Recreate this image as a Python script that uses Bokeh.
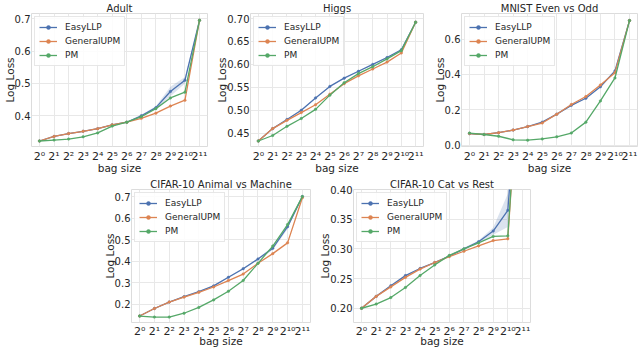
from bokeh.plotting import figure
from bokeh.layouts import row, column, Spacer
from bokeh.models import FixedTicker, Legend, LegendItem, Range1d, NumeralTickFormatter
from bokeh.embed import file_html
from bokeh.resources import INLINE

# ---- data ----
bag_exp = list(range(12))
tick_labels = ["2⁰", "2¹", "2²", "2³", "2⁴", "2⁵", "2⁶", "2⁷", "2⁸", "2⁹", "2¹⁰", "2¹¹"]
series_names = ["EasyLLP", "GeneralUPM", "PM"]

adult_easy = [0.322, 0.336, 0.345, 0.352, 0.360, 0.372, 0.380, 0.400, 0.425, 0.475, 0.510, 0.695]
adult_gupm = [0.322, 0.336, 0.345, 0.352, 0.360, 0.372, 0.380, 0.392, 0.408, 0.430, 0.448, 0.695]
adult_pm = [0.322, 0.325, 0.328, 0.335, 0.347, 0.368, 0.380, 0.397, 0.422, 0.455, 0.473, 0.695]
adult_easy_sd = [0.001, 0.001, 0.001, 0.001, 0.001, 0.002, 0.002, 0.003, 0.004, 0.015, 0.010, 0.002]

higgs_easy = [0.433, 0.460, 0.480, 0.500, 0.527, 0.552, 0.570, 0.585, 0.600, 0.615, 0.632, 0.692]
higgs_gupm = [0.433, 0.460, 0.478, 0.495, 0.512, 0.535, 0.558, 0.575, 0.590, 0.605, 0.625, 0.692]
higgs_pm = [0.433, 0.445, 0.465, 0.482, 0.502, 0.533, 0.560, 0.580, 0.595, 0.612, 0.630, 0.692]
higgs_easy_sd = [0.001] * 12

mnist_easy = [0.065, 0.060, 0.070, 0.085, 0.105, 0.130, 0.175, 0.225, 0.265, 0.330, 0.420, 0.705]
mnist_gupm = [0.065, 0.060, 0.070, 0.085, 0.105, 0.125, 0.175, 0.230, 0.275, 0.340, 0.410, 0.705]
mnist_pm = [0.068, 0.060, 0.050, 0.030, 0.028, 0.035, 0.047, 0.068, 0.130, 0.250, 0.380, 0.705]
mnist_easy_sd = [0.002] * 12

animal_easy = [0.145, 0.180, 0.210, 0.235, 0.258, 0.285, 0.325, 0.365, 0.410, 0.460, 0.560, 0.700]
animal_gupm = [0.145, 0.180, 0.210, 0.233, 0.255, 0.280, 0.310, 0.340, 0.390, 0.435, 0.485, 0.695]
animal_pm = [0.145, 0.140, 0.140, 0.158, 0.185, 0.220, 0.260, 0.310, 0.390, 0.470, 0.570, 0.700]
animal_easy_sd = [0.002, 0.002, 0.002, 0.002, 0.002, 0.003, 0.003, 0.004, 0.004, 0.008, 0.010, 0.002]

cat_easy = [0.200, 0.220, 0.238, 0.255, 0.267, 0.277, 0.288, 0.300, 0.312, 0.330, 0.365, 0.690]
cat_gupm = [0.200, 0.220, 0.236, 0.252, 0.266, 0.277, 0.287, 0.296, 0.305, 0.314, 0.317, 0.690]
cat_pm = [0.200, 0.207, 0.218, 0.235, 0.255, 0.273, 0.289, 0.300, 0.310, 0.321, 0.322, 0.690]
cat_easy_sd = [0.001, 0.001, 0.001, 0.001, 0.001, 0.001, 0.001, 0.002, 0.002, 0.006, 0.028, 0.002]

COLORS = ["#4C72B0", "#DD8452", "#55A868"]
TXT = "#262626"
FONT = "DejaVu Sans"


def panel(title, series, sd, yr, yticks, fmt, width, height, bl, br, bt, bb,
          x_lab_std=3, x_axlab_std=-4):
    p = figure(width=width, height=height, output_backend="svg", toolbar_location=None,
               x_range=Range1d(-0.55, 11.55), y_range=Range1d(*yr),
               min_border_left=bl, min_border_right=br, min_border_top=bt, min_border_bottom=bb)
    p.title.text = title
    p.title.align = "center"
    p.title.text_font = FONT
    p.title.text_font_size = "10px"
    p.title.text_font_style = "normal"
    p.title.text_color = TXT
    p.title.standoff = 0
    p.title.offset = 0
    p.title.text_line_height = 0.9
    p.outline_line_color = "#dcdcdc"
    p.background_fill_color = "white"
    p.border_fill_color = "white"
    for g in (p.xgrid, p.ygrid):
        g.grid_line_color = "#e8e8e8"
        g.grid_line_width = 1
    p.xaxis.ticker = FixedTicker(ticks=bag_exp)
    p.xaxis.major_label_overrides = {i: t for i, t in zip(bag_exp, tick_labels)}
    p.yaxis.ticker = FixedTicker(ticks=yticks)
    p.yaxis.formatter = NumeralTickFormatter(format=fmt)
    p.xaxis.axis_label = "bag size"
    p.yaxis.axis_label = "Log Loss"
    for ax in (p.xaxis, p.yaxis):
        ax.axis_line_color = None
        ax.major_tick_line_color = None
        ax.minor_tick_line_color = None
        ax.major_label_text_font = FONT
        ax.major_label_text_font_size = "10px"
        ax.major_label_text_color = TXT
        ax.major_label_text_line_height = 0.9
        ax.axis_label_text_font = FONT
        ax.axis_label_text_font_size = "10.5px"
        ax.axis_label_text_font_style = "normal"
        ax.axis_label_text_color = TXT
        ax.axis_label_text_line_height = 0.9
        ax.major_label_standoff = 1
        ax.axis_label_standoff = -4
        ax.major_tick_out = 0
        ax.major_tick_in = 0
    p.xaxis.major_label_text_font_size = "11px"
    p.xaxis.major_label_standoff = x_lab_std
    p.xaxis.axis_label_standoff = x_axlab_std
    lo = [v - s for v, s in zip(series[0], sd)]
    hi = [v + s for v, s in zip(series[0], sd)]
    p.varea(x=bag_exp, y1=lo, y2=hi, fill_color=COLORS[0], fill_alpha=0.2)
    items = []
    for name, ys, c in zip(series_names, series, COLORS):
        r1 = p.line(bag_exp, ys, line_color=c, line_width=1.3)
        r2 = p.scatter(bag_exp, ys, size=2.5, fill_color=c, line_color=c, line_width=0.5)
        items.append(LegendItem(label=name, renderers=[r1, r2]))
    leg = Legend(items=items, location="top_left")
    leg.label_text_font = FONT
    leg.label_text_font_size = "9px"
    leg.label_text_color = TXT
    leg.glyph_width = 18
    leg.glyph_height = 10
    leg.label_height = 12
    leg.spacing = 2
    leg.padding = 4
    leg.margin = 3
    leg.label_standoff = 8
    leg.border_line_color = "#d0d0d0"
    leg.background_fill_alpha = 0.85
    p.add_layout(leg)
    return p


TOP_H = 176
BOT_H = 173

p1 = panel("Adult", [adult_easy, adult_gupm, adult_pm], adult_easy_sd,
           (0.305, 0.716), [0.4, 0.5, 0.6, 0.7], "0.0", 213, TOP_H, 28, 6, 12, 28)
p2 = panel("Higgs", [higgs_easy, higgs_gupm, higgs_pm], higgs_easy_sd,
           (0.421, 0.711), [0.45, 0.5, 0.55, 0.6, 0.65, 0.7], "0.00", 215, TOP_H, 31, 5, 12, 28)
p3 = panel("MNIST Even vs Odd", [mnist_easy, mnist_gupm, mnist_pm], mnist_easy_sd,
           (-0.008, 0.745), [0.0, 0.2, 0.4, 0.6], "0.0", 212, TOP_H, 33, 3, 12, 28)
p4 = panel("CIFAR-10 Animal vs Machine", [animal_easy, animal_gupm, animal_pm], animal_easy_sd,
           (0.115, 0.733), [0.2, 0.3, 0.4, 0.5, 0.6, 0.7], "0.0", 216, BOT_H, 31, 6, 11, 24,
           x_lab_std=2, x_axlab_std=-6)
p5 = panel("CIFAR-10 Cat vs Rest", [cat_easy, cat_gupm, cat_pm], cat_easy_sd,
           (0.176, 0.40), [0.2, 0.25, 0.3, 0.35, 0.4], "0.00", 224, BOT_H, 34, 10, 11, 24,
           x_lab_std=2, x_axlab_std=-6)

layout = column(row(p1, p2, p3),
                row(Spacer(width=100, height=BOT_H), p4, p5, Spacer(width=100, height=BOT_H)),
                spacing=0)
layout.styles = {"position": "absolute", "left": "0px", "top": "0px"}

open("out.html", "w").write(file_html(layout, INLINE))
